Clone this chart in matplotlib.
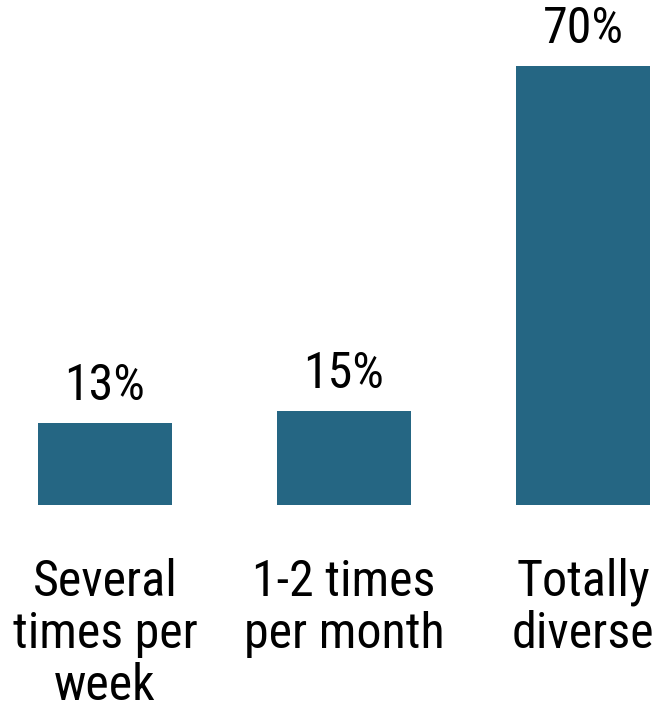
import matplotlib.pyplot as plt
from matplotlib import font_manager

categories = ["Several\ntimes per\nweek", "1-2 times\nper month", "Totally\ndiverse"]
values = [13, 15, 70]
labels = ["13%", "15%", "70%"]

names = {f.name for f in font_manager.fontManager.ttflist}
candidates = ["Liberation Sans Narrow", "Arial Narrow", "Roboto Condensed",
              "PT Sans Narrow", "Archivo Narrow", "Liberation Sans"]
font = next(c for c in candidates if c in names)
plt.rcParams['font.family'] = [font, 'DejaVu Sans']

fig = plt.figure(figsize=(6.64, 7.09), dpi=100)
ax = fig.add_axes([0, 1 - 505 / 709, 1, 505 / 709])

x = range(len(values))
ax.bar(x, values, width=0.56, color="#256683")

for i, v in enumerate(values):
    ax.annotate(labels[i], (i, v), xytext=(0, 13), textcoords="offset pixels",
                ha="center", va="bottom", fontsize=36)

for i, c in enumerate(categories):
    ax.annotate(c, (i, 0), xytext=(0, -53), textcoords="offset pixels",
                ha="center", va="top", fontsize=36, linespacing=1.1)

ax.set_xlim(-105 / 239, 559 / 239)
ax.set_ylim(0, 505 / 6.27)
ax.axis("off")

fig.savefig("out.png", dpi=100)
